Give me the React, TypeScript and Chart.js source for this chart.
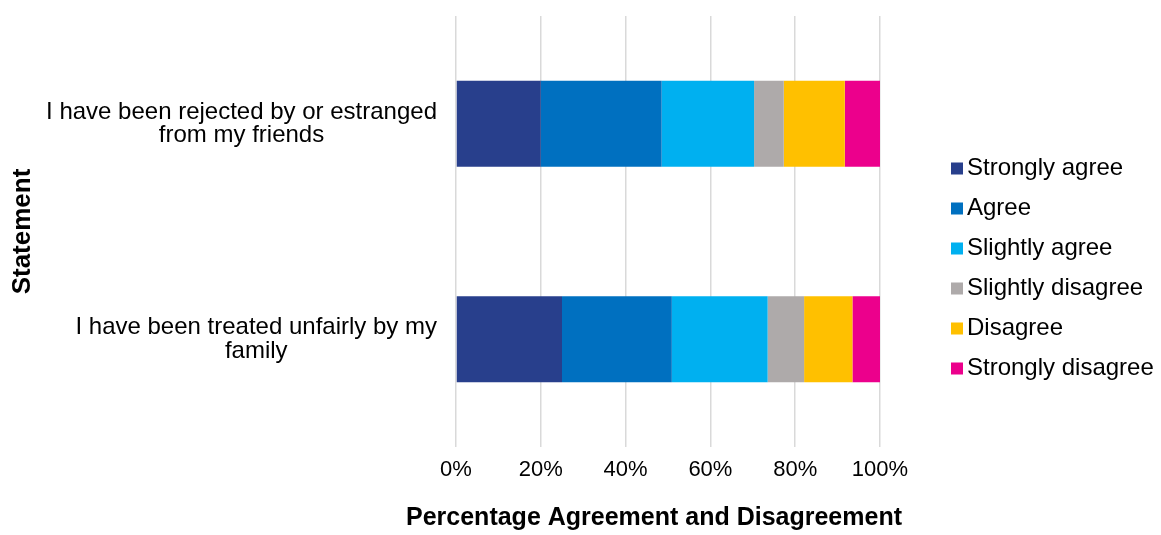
import React, { useEffect, useRef } from "react";
import { Chart, registerables } from "chart.js";

Chart.register(...registerables);

// ---- data ----
const categories: string[][] = [
  ["I have been rejected by or estranged", "from my friends"],
  ["I have been treated unfairly by my", "family"],
];
const seriesNames = [
  "Strongly agree",
  "Agree",
  "Slightly agree",
  "Slightly disagree",
  "Disagree",
  "Strongly disagree",
];
const stronglyAgree = [20.0, 25.0];
const agree = [28.5, 25.9];
const slightlyAgree = [21.8, 22.6];
const slightlyDisagree = [7.0, 8.6];
const disagree = [14.4, 11.4];
const stronglyDisagree = [8.3, 6.5];
const xTickValues = [0, 20, 40, 60, 80, 100];
const xAxisTitle = "Percentage Agreement and Disagreement";
const yAxisTitle = "Statement";

const seriesValues = [
  stronglyAgree,
  agree,
  slightlyAgree,
  slightlyDisagree,
  disagree,
  stronglyDisagree,
];
const seriesColors = ["#283F8C", "#0070C0", "#00B0F0", "#AEAAAA", "#FFC000", "#EC008C"];

const FONT = "'Liberation Sans', Arial, Helvetica, sans-serif";

const categoryLabelPlugin = {
  id: "categoryLabels",
  afterDraw(chart: any) {
    const ctx = chart.ctx;
    const yScale = chart.scales.y;
    const area = chart.chartArea;
    ctx.save();
    ctx.font = `24px ${FONT}`;
    ctx.fillStyle = "#000";
    ctx.textAlign = "center";
    ctx.textBaseline = "middle";
    const right = area.left - 19;
    const lh = 23.3;
    (chart.data.labels as any[]).forEach((lab, i) => {
      const lines: string[] = Array.isArray(lab) ? lab : [String(lab)];
      const w = Math.max(...lines.map((l) => ctx.measureText(l).width));
      const cx = right - w / 2;
      const cy = yScale.getPixelForTick(i);
      lines.forEach((l, j) => {
        ctx.fillText(l, cx, cy + (j - (lines.length - 1) / 2) * lh);
      });
    });
    ctx.restore();
  },
};

const xTitlePlugin = {
  id: "xTitle",
  afterDraw(chart: any) {
    const ctx = chart.ctx;
    const area = chart.chartArea;
    ctx.save();
    ctx.font = `bold 25px ${FONT}`;
    ctx.fillStyle = "#000";
    ctx.textAlign = "center";
    ctx.textBaseline = "middle";
    ctx.fillText(xAxisTitle, (area.left + area.right) / 2 - 14, chart.height - 17);
    ctx.restore();
  },
};

const legendPlugin = {
  id: "sideLegend",
  afterDraw(chart: any) {
    const ctx = chart.ctx;
    const area = chart.chartArea;
    const ds = chart.data.datasets;
    const spacing = 40;
    const x = area.right + 71;
    const startY = chart.height / 2 - ((ds.length - 1) / 2) * spacing + 1;
    ctx.save();
    ctx.font = `24px ${FONT}`;
    ctx.textAlign = "left";
    ctx.textBaseline = "middle";
    ds.forEach((d: any, i: number) => {
      const cy = startY + i * spacing;
      ctx.fillStyle = d.backgroundColor;
      ctx.fillRect(x, cy - 6, 12, 12);
      ctx.fillStyle = "#000";
      ctx.fillText(d.label, x + 16, cy);
    });
    ctx.restore();
  },
};

export default function App() {
  const canvasRef = useRef<HTMLCanvasElement | null>(null);

  useEffect(() => {
    document.body.style.margin = "0";
    const canvas = canvasRef.current;
    if (!canvas) return;
    const chart = new Chart(canvas, {
      type: "bar",
      data: {
        labels: categories,
        datasets: seriesNames.map((name, i) => ({
          label: name,
          data: seriesValues[i],
          backgroundColor: seriesColors[i],
          borderWidth: 0,
          categoryPercentage: 0.8,
          barPercentage: 0.5,
        })),
      },
      options: {
        indexAxis: "y",
        responsive: false,
        animation: false,
        devicePixelRatio: 1,
        layout: { padding: { top: 16, right: 281, left: 0, bottom: 0 } },
        plugins: {
          legend: { display: false },
          tooltip: { enabled: false },
        },
        scales: {
          x: {
            stacked: true,
            min: 0,
            max: 100,
            afterBuildTicks(scale: any) {
              scale.ticks = xTickValues.map((v) => ({ value: v }));
            },
            afterFit(scale: any) {
              scale.height = 88;
            },
            grid: {
              display: true,
              color: "#D9D9D9",
              lineWidth: 1.5,
              drawTicks: false,
            },
            border: { display: false },
            ticks: {
              padding: 10,
              color: "#000",
              font: { family: FONT, size: 22 },
              callback: (v: any) => `${v}%`,
            },
            title: { display: false },
          },
          y: {
            stacked: true,
            afterFit(scale: any) {
              scale.width = 456;
            },
            grid: { display: false },
            border: { display: false },
            ticks: { display: false },
            title: {
              display: true,
              text: yAxisTitle,
              color: "#000",
              font: { family: FONT, size: 26, weight: "bold" },
              padding: { top: 7, bottom: 0 },
            },
          },
        },
      },
      plugins: [categoryLabelPlugin, xTitlePlugin, legendPlugin],
    } as any);
    return () => chart.destroy();
  }, []);

  return (
    <div style={{ position: "absolute", left: 0, top: 0 }}>
      <canvas ref={canvasRef} width={1161} height={535} style={{ display: "block" }} />
    </div>
  );
}
